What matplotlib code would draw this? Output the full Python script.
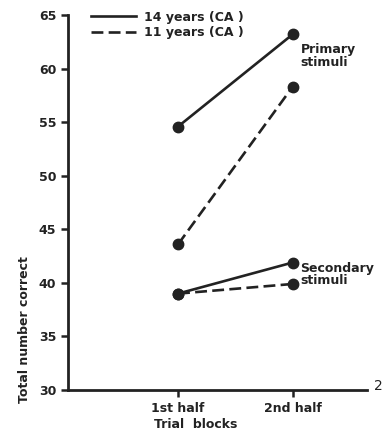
import matplotlib
matplotlib.use("Agg")
import matplotlib.pyplot as plt
from matplotlib.lines import Line2D

# data
blocks = ["1st half", "2nd half"]
x_pos = [1, 2]
primary_14 = [54.6, 63.2]
primary_11 = [43.6, 58.3]
secondary_14 = [39.0, 41.9]
secondary_11 = [39.0, 39.9]
y_ticks = [30, 35, 40, 45, 50, 55, 60, 65]

plt.rcParams["font.family"] = ["DejaVu Sans"]

fig = plt.figure(figsize=(3.83, 4.34), dpi=100)
ax = fig.add_axes([0.178, 0.1014, 0.78, 0.8636])

col = "#222222"
lw = 1.9
dash = (0, (4.5, 2.0))
ax.plot(x_pos, primary_14, color=col, lw=lw, marker="o", ms=7.5)
ax.plot(x_pos, primary_11, color=col, lw=lw, ls=dash, marker="o", ms=7.5)
ax.plot(x_pos, secondary_14, color=col, lw=lw, marker="o", ms=7.5)
ax.plot(x_pos, secondary_11, color=col, lw=lw, ls=dash, marker="o", ms=7.5)

ax.set_xlim(0.04, 2.65)
ax.set_ylim(30, 65)
ax.set_yticks(y_ticks)
ax.set_xticks(x_pos)
ax.set_xticklabels(blocks)
ax.tick_params(axis="both", direction="out", length=5, width=1.8, color=col,
               labelsize=9, labelcolor=col)
for lab in ax.get_yticklabels() + ax.get_xticklabels():
    lab.set_fontweight("bold")
for s in ["top", "right"]:
    ax.spines[s].set_visible(False)
for s in ["left", "bottom"]:
    ax.spines[s].set_linewidth(2)
    ax.spines[s].set_color(col)

ax.text(2.07, 61.2, "Primary\nstimuli", fontsize=9, color=col, fontweight="bold",
        va="center", ha="left", linespacing=0.95)
ax.text(2.07, 40.8, "Secondary\nstimuli", fontsize=9, color=col, fontweight="bold",
        va="center", ha="left", linespacing=0.95)

handles = [Line2D([], [], color=col, lw=lw),
           Line2D([], [], color=col, lw=lw, ls=dash)]
leg = ax.legend(handles, ["14 years (CA )", "11 years (CA )"],
                loc="upper left", bbox_to_anchor=(0.06, 1.025), frameon=False,
                handlelength=3.6, fontsize=9, labelspacing=0.2, handletextpad=0.6,
                borderaxespad=0)
for t in leg.get_texts():
    t.set_fontweight("bold")
    t.set_color(col)

fig.text(25 / 383, 1 - 330 / 434, "Total number correct", rotation=90,
         ha="center", va="center", fontsize=9, fontweight="bold", color=col)
fig.text(196 / 383, 1 - 425 / 434, "Trial  blocks", ha="center", va="center",
         fontsize=9, fontweight="bold", color=col)
fig.text(374 / 383, 1 - 386 / 434, "2", ha="left", va="center",
         fontsize=10, color=col)

fig.savefig("out.png", dpi=100)
